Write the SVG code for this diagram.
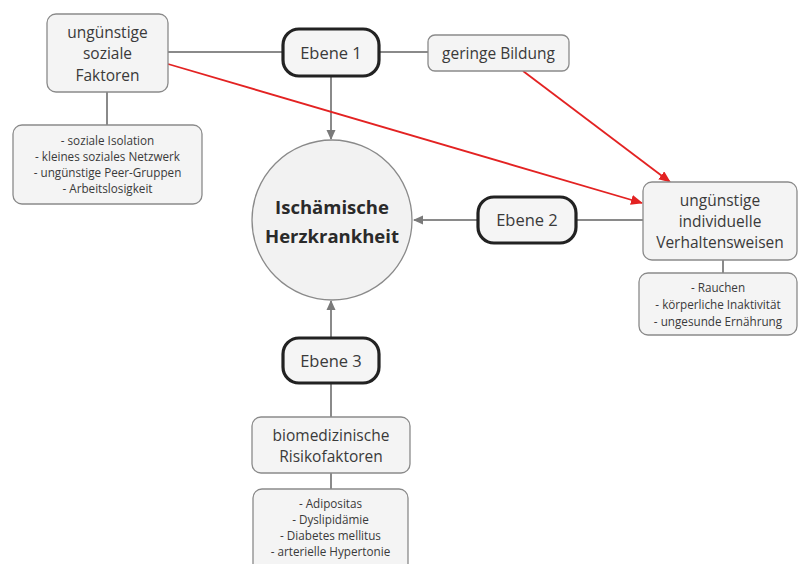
<svg xmlns="http://www.w3.org/2000/svg" width="798" height="564" viewBox="0 0 798 564">
<style>
.box{fill:#f4f4f4;stroke:#8a8a8a;stroke-width:1.3}
.lvl{fill:#f5f5f5;stroke:#222;stroke-width:3.2}
.t{font-family:"Open Sans","Noto Sans","DejaVu Sans",sans-serif;fill:#3a3a3a;text-anchor:middle}
.big{font-size:15.5px}
.small{font-size:11.7px}
.lv{font-size:16.5px}
.title{font-size:18.5px;font-weight:bold;fill:#2a2a2a}
.con{stroke:#8a8a8a;stroke-width:2;fill:none}
.red{stroke:#e32222;stroke-width:1.8;fill:none}
</style>
<defs>
<marker id="ag" markerWidth="10" markerHeight="10" refX="9" refY="5" orient="auto" markerUnits="userSpaceOnUse"><path d="M0,0.5 L10,5 L0,9.5 Z" fill="#7a7a7a"/></marker>
<marker id="ar" markerWidth="12" markerHeight="10" refX="11" refY="5" orient="auto" markerUnits="userSpaceOnUse"><path d="M0,0 L12,5 L0,10 Z" fill="#e32222"/></marker>
</defs>
<g id="connectors">
<line class="con" x1="168" y1="52" x2="283" y2="52"/>
<line class="con" x1="379" y1="52" x2="428" y2="52"/>
<line class="con" x1="107" y1="92" x2="107" y2="125"/>
<line class="con" x1="331" y1="76" x2="331" y2="139" marker-end="url(#ag)"/>
<line class="con" x1="478" y1="220" x2="414" y2="220" marker-end="url(#ag)"/>
<line class="con" x1="576" y1="220" x2="643" y2="220"/>
<line class="con" x1="723" y1="260" x2="723" y2="273"/>
<line class="con" x1="331" y1="338" x2="331" y2="301" marker-end="url(#ag)"/>
<line class="con" x1="331" y1="383" x2="331" y2="417"/>
<line class="con" x1="331" y1="473" x2="331" y2="489"/>
<line class="red" x1="168" y1="64" x2="642" y2="203" marker-end="url(#ar)"/>
<line class="red" x1="523" y1="71" x2="670" y2="182" marker-end="url(#ar)"/>
</g>
<g id="soziale-faktoren">
<rect class="box" x="47" y="14" width="121" height="78" rx="9"/>
<text class="t big" x="107.5" y="38">ungünstige</text>
<text class="t big" x="107.5" y="59">soziale</text>
<text class="t big" x="107.5" y="81">Faktoren</text>
</g>
<g id="soziale-liste">
<rect class="box" x="13" y="125" width="189" height="79" rx="9"/>
<text class="t small" x="107.5" y="145">- soziale Isolation</text>
<text class="t small" x="107.5" y="161">- kleines soziales Netzwerk</text>
<text class="t small" x="107.5" y="177">- ungünstige Peer-Gruppen</text>
<text class="t small" x="107.5" y="193">- Arbeitslosigkeit</text>
</g>
<g id="ebene1">
<rect class="lvl" x="283" y="29" width="96" height="47" rx="16"/>
<text class="t lv" x="331" y="59">Ebene 1</text>
</g>
<g id="bildung">
<rect class="box" x="428" y="35" width="141" height="36" rx="7"/>
<text class="t big" x="498.5" y="59">geringe Bildung</text>
</g>
<g id="herzkrankheit">
<circle cx="332" cy="220" r="80" fill="#f2f2f2" stroke="#8a8a8a" stroke-width="1.3"/>
<text class="t title" x="332" y="214">Ischämische</text>
<text class="t title" x="332" y="243">Herzkrankheit</text>
</g>
<g id="ebene2">
<rect class="lvl" x="478" y="197" width="98" height="46" rx="16"/>
<text class="t lv" x="527" y="226">Ebene 2</text>
</g>
<g id="verhalten">
<rect class="box" x="643" y="182" width="154" height="78" rx="9"/>
<text class="t big" x="720" y="206">ungünstige</text>
<text class="t big" x="720" y="227">individuelle</text>
<text class="t big" x="720" y="248">Verhaltensweisen</text>
</g>
<g id="verhalten-liste">
<rect class="box" x="639" y="273" width="158" height="62" rx="9"/>
<text class="t small" x="718" y="292">- Rauchen</text>
<text class="t small" x="718" y="309">- körperliche Inaktivität</text>
<text class="t small" x="718" y="326">- ungesunde Ernährung</text>
</g>
<g id="ebene3">
<rect class="lvl" x="283" y="338" width="96" height="45" rx="16"/>
<text class="t lv" x="331" y="367">Ebene 3</text>
</g>
<g id="biomedizinisch">
<rect class="box" x="252" y="417" width="158" height="56" rx="9"/>
<text class="t big" x="331" y="441">biomedizinische</text>
<text class="t big" x="331" y="462">Risikofaktoren</text>
</g>
<g id="bio-liste">
<rect class="box" x="253" y="489" width="155" height="85" rx="9"/>
<text class="t small" x="330.5" y="508">- Adipositas</text>
<text class="t small" x="330.5" y="524">- Dyslipidämie</text>
<text class="t small" x="330.5" y="540">- Diabetes mellitus</text>
<text class="t small" x="330.5" y="556">- arterielle Hypertonie</text>
</g>
</svg>
